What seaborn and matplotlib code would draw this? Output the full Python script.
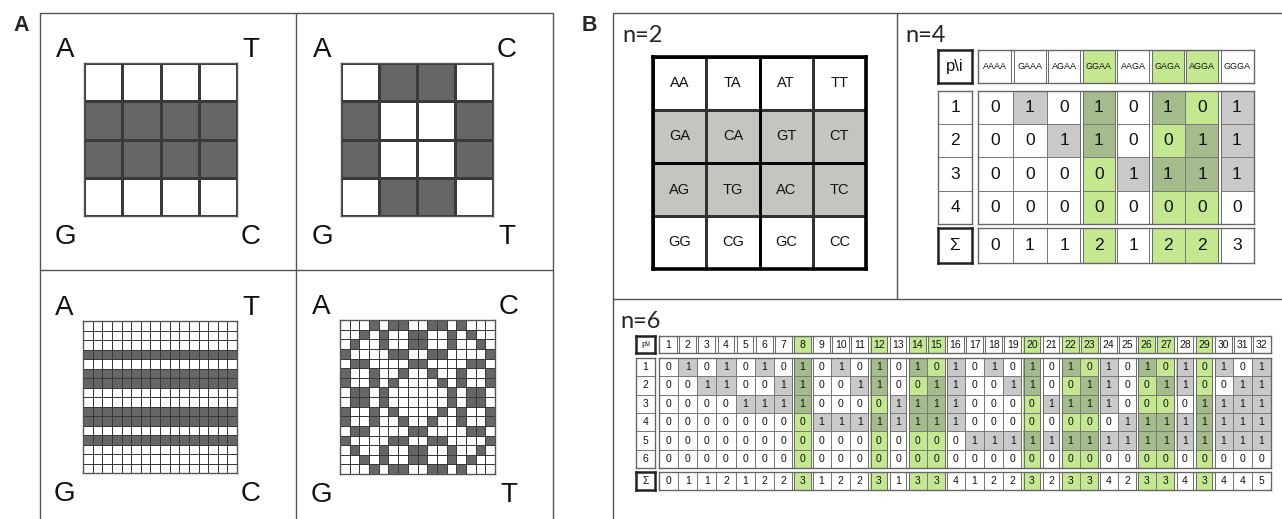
import matplotlib
matplotlib.use("Agg")
import matplotlib.pyplot as plt
from matplotlib.colors import ListedColormap
import seaborn as sns
import numpy as np

W, H = 1282, 519

# ---- panel A: shaded cells of the four grids (1 = dark)
a_top_left = ["0000", "1111", "1111", "0000"]
a_top_right = ["0110", "1001", "1001", "0110"]
a_bottom_left_rows = "0001011001101000"   # whole rows shaded
a_bottom_right = [
    "0001011001101000", "0010100110010100", "0100100110010010", "1000011001100001",
    "0110000110000110", "1001001001001001", "1001010000101001", "0110100000010110",
    "0110100000010110", "1001010000101001", "1001001001001001", "0110000110000110",
    "1000011001100001", "0100100110010010", "0010100110010100", "0001011001101000",
]
a_corners = [["A", "T", "G", "C"], ["A", "C", "G", "T"], ["A", "T", "G", "C"], ["A", "C", "G", "T"]]

# ---- panel B, n=2
n2_labels = [["AA", "TA", "AT", "TT"],
             ["GA", "CA", "GT", "CT"],
             ["AG", "TG", "AC", "TC"],
             ["GG", "CG", "GC", "CC"]]
n2_gray_rows = [0, 1, 1, 0]

# ---- panel B, n=4
n4_cols = ["AAAA", "GAAA", "AGAA", "GGAA", "AAGA", "GAGA", "AGGA", "GGGA"]
n4_bits = ["01010101", "00110011", "00001111", "00000000"]
n4_sum = [0, 1, 1, 2, 1, 2, 2, 3]
n4_green = [0, 0, 0, 1, 0, 1, 1, 0]

# ---- panel B, n=6
n6_cols = list(range(1, 33))
n6_bits = ["01010101010101010101010101010101",
           "00110011001100110011001100110011",
           "00001111000011110000111100001111",
           "00000000111111110000000011111111",
           "00000000000000001111111111111111",
           "00000000000000000000000000000000"]
n6_sum = [0, 1, 1, 2, 1, 2, 2, 3, 1, 2, 2, 3, 1, 3, 3, 4,
          1, 2, 2, 3, 2, 3, 3, 4, 2, 3, 3, 4, 3, 4, 4, 5]
n6_green_cols = [8, 12, 14, 15, 20, 22, 23, 26, 27, 29]

DARK = "#666666"
N2_GRAY = "#c4c4c0"
GRAY = "#c9c9c9"
LIGHT_GREEN = "#c4e890"
DARK_GREEN = "#a4bb8c"
TABLE_CMAP = ListedColormap(["#ffffff", GRAY, LIGHT_GREEN, DARK_GREEN])

sns.set_style("white")
plt.rcParams["font.family"] = ["Liberation Sans", "DejaVu Sans"]

fig = plt.figure(figsize=(W / 100, H / 100), dpi=100)
bg = fig.add_axes([0, 0, 1, 1])
bg.set_xlim(0, W)
bg.set_ylim(H, 0)
bg.axis("off")


def px_axes(x0, y0, x1, y1):
    return fig.add_axes([x0 / W, 1 - y1 / H, (x1 - x0) / W, (y1 - y0) / H])


def bits(rows):
    return np.array([[int(ch) for ch in r] for r in rows])


def frame(ax, color, lw):
    for s in ax.spines.values():
        s.set_visible(True)
        s.set_color(color)
        s.set_linewidth(lw)


# ---------------- panel boxes
line = dict(color="#555555", lw=1.0)
bg.plot([40, 40, 553, 553], [519, 13, 13, 519], **line)
bg.plot([296, 296], [13, 519], **line)
bg.plot([40, 553], [270, 270], **line)
bg.plot([613, 613, 1282], [519, 13, 13], **line)
bg.plot([897, 897], [13, 299], **line)
bg.plot([613, 1282], [299, 299], **line)

bg.text(21, 31, "A", fontsize=15.5, fontweight="bold", ha="center", va="baseline")
bg.text(589, 31, "B", fontsize=15.5, fontweight="bold", ha="center", va="baseline")

# ---------------- panel A grids
grids = [
    (bits(a_top_left), (84, 63, 237, 216), 1.0),
    (bits(a_top_right), (341, 63, 493, 216), 1.0),
    (np.repeat(bits([a_bottom_left_rows]).T, 16, axis=1), (83, 321, 237, 473), 0.6),
    (bits(a_bottom_right), (340, 320, 495, 474), 0.6),
]
for (mat, box, lw), letters in zip(grids, a_corners):
    ax = px_axes(*box)
    sns.heatmap(mat, ax=ax, cmap=ListedColormap(["white", DARK]), vmin=0, vmax=1,
                cbar=False, linewidths=lw, linecolor="#3a3a3a",
                xticklabels=False, yticklabels=False)
    frame(ax, "#555555", 1.0)
    x0, y0, x1, y1 = box
    lx, rx = x0 - 19, x1 + 14
    ty, by = y0 - 6, y1 + 28
    for (tx, tyy), s in zip([(lx, ty), (rx, ty), (lx, by), (rx, by)], letters):
        bg.text(tx, tyy, s, fontsize=20, ha="center", va="baseline", color="#111111")

# ---------------- panel B, n=2
bg.text(622, 42, "n=2", fontsize=17, family=["Lato", "DejaVu Sans"], va="baseline")
ax = px_axes(653, 57, 866, 269)
n2_codes = np.array([[g] * 4 for g in n2_gray_rows])
sns.heatmap(n2_codes, ax=ax, cmap=ListedColormap(["white", N2_GRAY]), vmin=0, vmax=1,
            cbar=False, annot=np.array(n2_labels), fmt="",
            annot_kws={"fontsize": 10.5, "color": "#111111"},
            linewidths=0.8, linecolor="#333333", xticklabels=False, yticklabels=False)
ax.axhline(2, color="black", lw=2.0)
ax.axvline(2, color="black", lw=2.0)
frame(ax, "black", 2.6)


def block(box, codes, labels, fs, lw=0.7, lc="#7a7a7a", edge_c="#666666", edge_lw=1.0):
    ax = px_axes(*box)
    sns.heatmap(np.asarray(codes), ax=ax, cmap=TABLE_CMAP, vmin=-0.5, vmax=3.5, cbar=False,
                annot=np.asarray(labels, dtype=object).astype(str), fmt="",
                annot_kws={"fontsize": fs, "color": "#111111"},
                linewidths=lw, linecolor=lc, xticklabels=False, yticklabels=False)
    frame(ax, edge_c, edge_lw)
    return ax


def split(ax, cols, cell_px, color="#6a6a6a"):
    # double rule between separately boxed column groups
    d = 1.2 / cell_px
    for k in cols:
        ax.axvline(k, color="white", lw=1.4)
        ax.axvline(k - d, color=color, lw=0.7)
        ax.axvline(k + d, color=color, lw=0.7)


def run_bounds(green):
    return [k for k in range(1, len(green)) if green[k] != green[k - 1]]


def table(x_lab, x0, x1, y_head, y_data, y_sum, cols, bitrows, sums, green,
          fs_head, fs_num, fs_pi):
    n = len(cols)
    cell = (x1 - x0) / n
    g = np.array(green)
    head = block((x0, y_head[0], x1, y_head[1]), [2 * g], [cols], fs_head)
    split(head, range(1, n), cell)
    block((x_lab[0], y_head[0], x_lab[1], y_head[1]), [[0]], [["p\\i"]], fs_pi,
          edge_c="#222222", edge_lw=1.8)
    b = bits(bitrows)
    data = block((x0, y_data[0], x1, y_data[1]), b + 2 * g, b, fs_num)
    split(data, run_bounds(green), cell)
    block((x_lab[0], y_data[0], x_lab[1], y_data[1]),
          [[0]] * len(bitrows), [[i + 1] for i in range(len(bitrows))], fs_num)
    srow = block((x0, y_sum[0], x1, y_sum[1]), [2 * g], [sums], fs_num)
    split(srow, run_bounds(green), cell)
    block((x_lab[0], y_sum[0], x_lab[1], y_sum[1]), [[0]], [["Σ"]], fs_num,
          edge_c="#222222", edge_lw=1.8)


# ---------------- panel B, n=4
bg.text(905, 42, "n=4", fontsize=17, family=["Lato", "DejaVu Sans"], va="baseline")
table((938, 972), 978, 1254, (50, 83), (91, 224), (228, 263),
      n4_cols, n4_bits, n4_sum, n4_green, 6.5, 12.5, 12)

# ---------------- panel B, n=6
bg.text(620, 328, "n=6", fontsize=17, family=["Lato", "DejaVu Sans"], va="baseline")
n6_green = [1 if c in n6_green_cols else 0 for c in n6_cols]
table((636, 655), 659, 1271, (336, 353), (358, 468), (472, 490),
      n6_cols, n6_bits, n6_sum, n6_green, 7.5, 7.5, 6)

fig.savefig("out.png", dpi=100)
